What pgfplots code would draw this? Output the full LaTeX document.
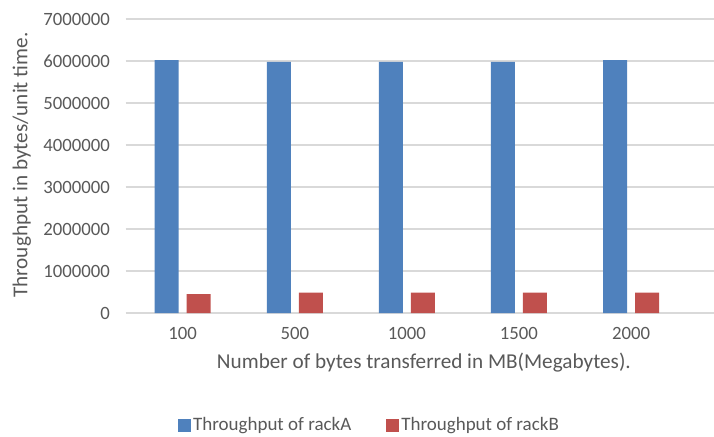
\documentclass[border=0pt]{standalone}
\usepackage{pgfplots}
\pgfplotsset{compat=1.18}
\usepackage{fontspec}
\setmainfont{Carlito}
\definecolor{rackA}{HTML}{4F81BD}
\definecolor{rackB}{HTML}{C0504D}
\definecolor{gridgray}{HTML}{D9D9D9}
\definecolor{textgray}{HTML}{595959}

\begin{document}
\begin{tikzpicture}
\path[use as bounding box] (0,0) rectangle (714pt,436pt);
\begin{axis}[
  at={(125.5pt,123pt)}, anchor=south west,
  scale only axis, width=588.5pt, height=294pt,
  xmin=-0.51, xmax=4.74, ymin=0, ymax=7000000,
  axis line style={draw=none},
  xtick={0,1,2,3,4}, xticklabels={100,500,1000,1500,2000},
  ytick={0,1000000,...,7000000},
  scaled y ticks=false,
  /pgf/number format/assume math mode=true,
  yticklabel={\pgfmathprintnumber[fixed,precision=0,1000 sep={}]{\tick}},
  ymajorgrids, grid style={gridgray, line width=1.2pt},
  major tick length=0pt,
  tick label style={font=\fontsize{18.75}{22}\selectfont, text=textgray},
  yticklabel style={anchor=east, xshift=-12pt},
  xticklabel style={anchor=center, yshift=-20pt},
  xlabel={Number of bytes transferred in MB(Megabytes).},
  ylabel={Throughput in bytes/unit time.},
  label style={font=\fontsize{21.2}{24}\selectfont, text=textgray},
  xlabel style={at={(axis description cs:0.507,-0.167)}, anchor=center},
  ylabel style={at={(axis description cs:-0.176,0.503)}, anchor=center},
  legend columns=2,
  legend style={at={(axis description cs:0.089,-0.381)}, anchor=west,
    draw=none, fill=none, inner sep=0pt,
    font=\fontsize{19}{22}\selectfont, text=textgray,
    /tikz/every even column/.append style={column sep=33pt}},
  legend image code/.code={\fill[#1] (0pt,-6.5pt) rectangle (13pt,6.5pt);},
  clip=false,
]
\addplot[ybar, bar width=24pt, bar shift=-16pt, fill=rackA, draw=none]
  coordinates {(0,6020000) (1,5980000) (2,5980000) (3,5980000) (4,6020000)};
\addplot[ybar, bar width=24pt, bar shift=16pt, fill=rackB, draw=none]
  coordinates {(0,452000) (1,483000) (2,483000) (3,483000) (4,483000)};
\legend{Throughput of rackA, Throughput of rackB}
\end{axis}
\end{tikzpicture}
\end{document}
